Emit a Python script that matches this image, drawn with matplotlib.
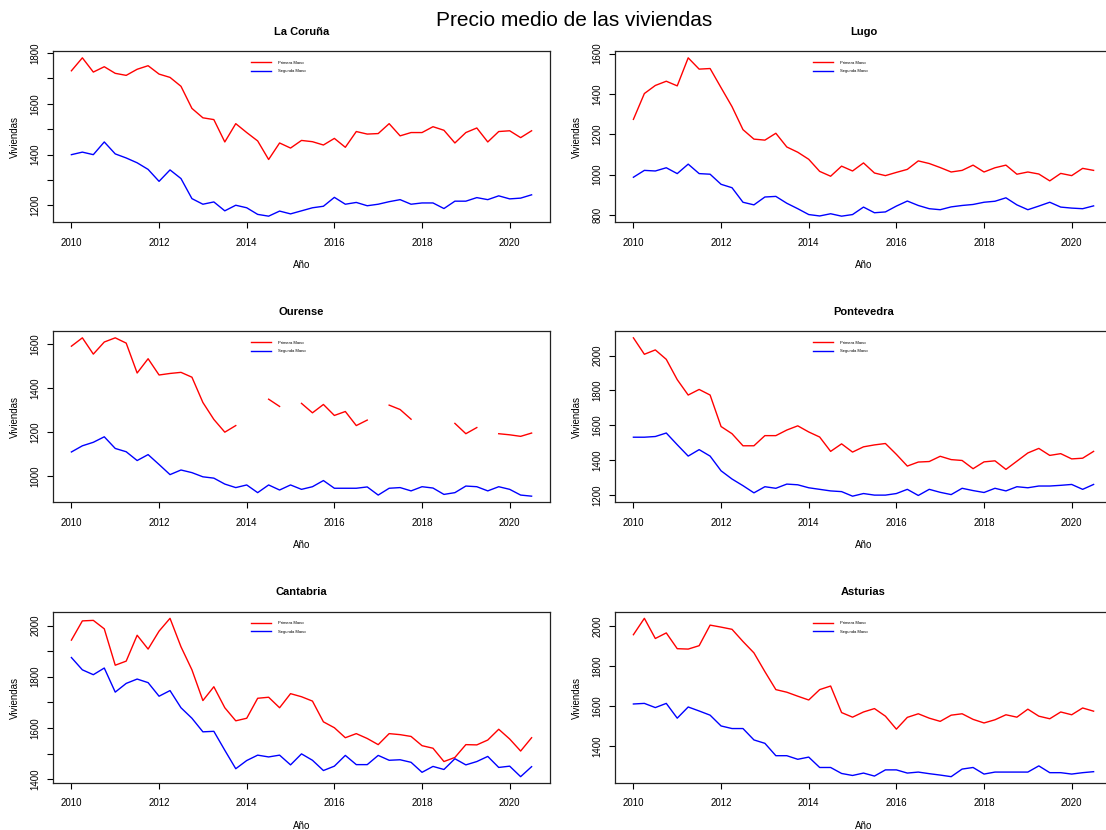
import numpy as np
import matplotlib
matplotlib.use("Agg")
import matplotlib.pyplot as plt
from matplotlib.ticker import MultipleLocator, FuncFormatter

plt.rcParams['font.family'] = ['Liberation Sans', 'DejaVu Sans']

nan = np.nan
# quarterly index 2010 Q1 .. 2020 Q3
years = 2010 + np.arange(43) / 4.0

provincias = ['La Coruña', 'Lugo', 'Ourense', 'Pontevedra', 'Cantabria', 'Asturias']

coruna_primera = [1730, 1781, 1725, 1746, 1720, 1712, 1736, 1750, 1717, 1704, 1669,
                  1582, 1545, 1538, 1450, 1522, 1487, 1454, 1381, 1446, 1426, 1456,
                  1451, 1438, 1464, 1429, 1491, 1481, 1483, 1522, 1474, 1487, 1487,
                  1510, 1496, 1446, 1487, 1505, 1450, 1491, 1494, 1467, 1494]
coruna_segunda = [1400, 1410, 1400, 1450, 1403, 1387, 1368, 1342, 1295, 1340, 1306,
                  1227, 1205, 1214, 1179, 1201, 1191, 1165, 1158, 1178, 1167, 1179,
                  1191, 1197, 1232, 1205, 1212, 1199, 1205, 1215, 1223, 1205, 1210,
                  1210, 1188, 1217, 1217, 1231, 1223, 1238, 1226, 1229, 1242]

lugo_primera = [1274, 1402, 1442, 1463, 1440, 1579, 1523, 1526, 1431, 1337, 1223,
                1176, 1171, 1205, 1137, 1111, 1076, 1016, 992, 1042, 1018, 1058,
                1008, 995, 1011, 1026, 1068, 1055, 1035, 1013, 1021, 1047, 1013,
                1034, 1047, 1002, 1013, 1003, 969, 1006, 995, 1031, 1021]
lugo_segunda = [987, 1021, 1018, 1034, 1005, 1052, 1005, 1002, 952, 935, 863,
                850, 889, 892, 858, 831, 802, 795, 806, 794, 802, 839,
                811, 815, 844, 869, 847, 831, 826, 840, 847, 852, 863,
                868, 885, 850, 826, 844, 863, 839, 834, 831, 845]

ourense_primera = [1590, 1628, 1554, 1609, 1628, 1604, 1468, 1533, 1459, 1466, 1471,
                   1449, 1334, 1257, 1199, 1229, nan, nan, 1349, 1316, nan, 1330,
                   1287, 1325, 1275, 1293, 1229, 1254, nan, 1322, 1302, 1258, nan,
                   nan, nan, 1239, 1192, 1220, nan, 1192, 1187, 1180, 1195]
ourense_segunda = [1109, 1137, 1153, 1178, 1125, 1110, 1070, 1097, 1052, 1006, 1027,
                   1015, 996, 990, 963, 947, 959, 924, 959, 936, 959, 939,
                   951, 979, 944, 944, 944, 950, 913, 944, 947, 932, 951,
                   945, 916, 924, 954, 951, 932, 951, 939, 913, 908]

pontevedra_primera = [2101, 2007, 2032, 1978, 1862, 1774, 1806, 1774, 1594, 1553, 1484,
                      1484, 1542, 1542, 1574, 1598, 1563, 1534, 1452, 1495, 1448, 1478,
                      1489, 1497, 1435, 1368, 1391, 1394, 1424, 1405, 1400, 1353, 1392,
                      1398, 1349, 1396, 1443, 1469, 1429, 1439, 1409, 1413, 1452]
pontevedra_segunda = [1533, 1533, 1537, 1557, 1490, 1425, 1462, 1425, 1341, 1294, 1256,
                      1215, 1250, 1241, 1265, 1261, 1244, 1235, 1226, 1222, 1196, 1211,
                      1202, 1202, 1211, 1235, 1200, 1235, 1218, 1205, 1241, 1228, 1217,
                      1241, 1226, 1250, 1244, 1254, 1254, 1258, 1263, 1235, 1263]

cantabria_primera = [1943, 2018, 2020, 1987, 1845, 1861, 1962, 1908, 1978, 2028, 1917,
                     1827, 1707, 1761, 1679, 1628, 1638, 1716, 1720, 1679, 1734, 1722,
                     1705, 1624, 1601, 1562, 1578, 1559, 1535, 1578, 1574, 1567, 1531,
                     1521, 1469, 1485, 1535, 1534, 1553, 1595, 1557, 1510, 1562]
cantabria_segunda = [1875, 1827, 1808, 1834, 1740, 1774, 1791, 1777, 1724, 1746, 1679,
                     1638, 1585, 1587, 1513, 1441, 1473, 1494, 1487, 1494, 1456, 1499,
                     1474, 1434, 1451, 1493, 1457, 1457, 1493, 1474, 1476, 1466, 1427,
                     1450, 1438, 1480, 1456, 1469, 1489, 1446, 1451, 1410, 1449]

asturias_primera = [1957, 2039, 1938, 1966, 1887, 1885, 1902, 2005, 1995, 1984, 1923,
                    1866, 1772, 1682, 1669, 1649, 1630, 1682, 1700, 1567, 1544, 1570,
                    1587, 1549, 1484, 1543, 1561, 1539, 1523, 1554, 1561, 1533, 1515,
                    1531, 1556, 1544, 1584, 1549, 1536, 1570, 1556, 1590, 1574]
asturias_segunda = [1610, 1613, 1592, 1613, 1539, 1595, 1575, 1554, 1500, 1487, 1487,
                    1430, 1413, 1351, 1351, 1333, 1344, 1292, 1292, 1262, 1252, 1264,
                    1249, 1280, 1280, 1264, 1269, 1261, 1254, 1246, 1284, 1292, 1259,
                    1269, 1269, 1269, 1269, 1300, 1266, 1266, 1259, 1266, 1271]

primera = [coruna_primera, lugo_primera, ourense_primera,
           pontevedra_primera, cantabria_primera, asturias_primera]
segunda = [coruna_segunda, lugo_segunda, ourense_segunda,
           pontevedra_segunda, cantabria_segunda, asturias_segunda]
ystep = [100, 200, 200, 200, 100, 200]

W, H = 1106, 830
fig = plt.figure(figsize=(W / 100, H / 100), dpi=100)

lefts = [53, 615]
tops = [51.5, 331.5, 612]
aw, ah = 497, 171

fig.text(574 / W, 1 - 20 / H, 'Precio medio de las viviendas',
         ha='center', va='center', fontsize=15)

for i, name in enumerate(provincias):
    r, c = divmod(i, 2)
    ax = fig.add_axes([lefts[c] / W, 1 - (tops[r] + ah) / H, aw / W, ah / H])
    p = np.array(primera[i], dtype=float)
    s = np.array(segunda[i], dtype=float)
    ax.plot(years, p, color='#ff0000', lw=1.0, label='Primera Mano')
    ax.plot(years, s, color='#0000ff', lw=1.0, label='Segunda Mano')
    ax.margins(x=0.04, y=0.04)

    ax.set_xticks([2010, 2012, 2014, 2016, 2018, 2020])
    step = ystep[i]
    ax.yaxis.set_major_locator(MultipleLocator(step))
    ax.yaxis.set_major_formatter(FuncFormatter(
        lambda v, pos: '%d' % v if round(v) % 200 == 0 else ''))
    ax.tick_params(axis='both', direction='out', length=4, width=0.8,
                   labelsize=7, color='black')
    ax.tick_params(axis='x', pad=7)
    ax.tick_params(axis='y', pad=5)
    for lab in ax.get_yticklabels():
        lab.set_rotation(90)
        lab.set_va('center')
    for sp in ax.spines.values():
        sp.set_linewidth(0.9)
        sp.set_color('#222222')

    ax.set_title(name, fontsize=8, fontweight='bold', pad=12)
    ax.set_xlabel('Año', fontsize=7)
    ax.set_ylabel('Viviendas', fontsize=7)
    ax.xaxis.set_label_coords(0.5, -0.222)
    ax.yaxis.set_label_coords(-0.066, 0.5)

    ax.legend(loc='upper left', bbox_to_anchor=(2014.1, 0.945),
              bbox_transform=ax.get_xaxis_transform(), frameon=False,
              fontsize=3, handlelength=4.8, handletextpad=1.7,
              labelspacing=1.0, borderpad=0, borderaxespad=0)

fig.savefig('out.png', dpi=100)
